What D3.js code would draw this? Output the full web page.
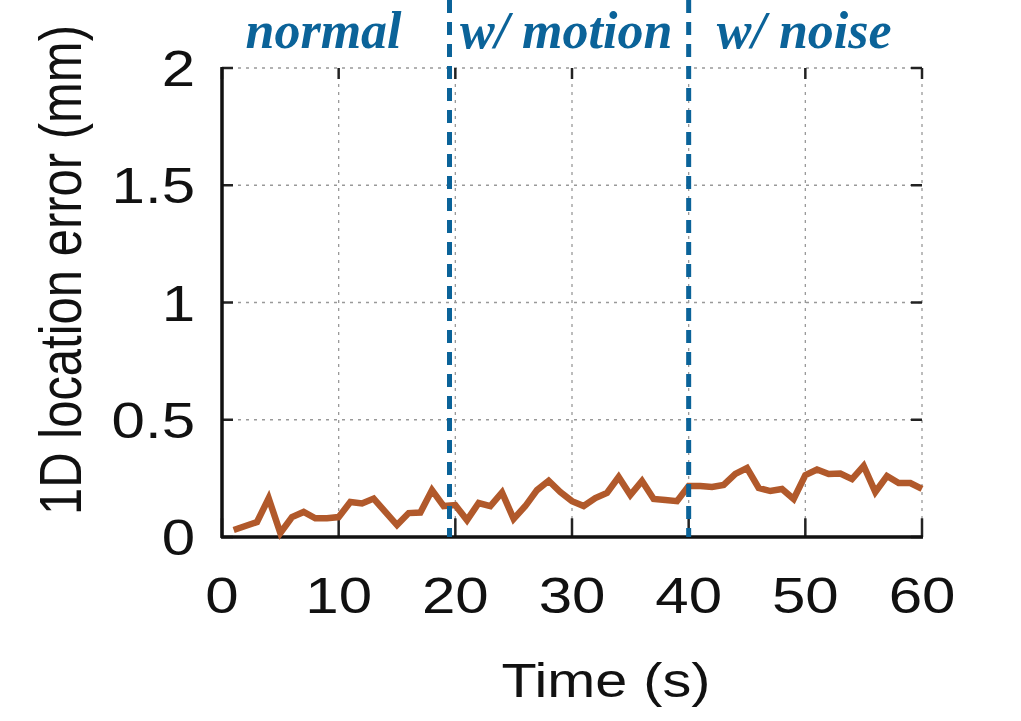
<!DOCTYPE html>
<html><head><meta charset="utf-8">
<script src="https://cdn.jsdelivr.net/npm/d3@7"></script>
<style>body{margin:0;background:#fff}svg{display:block}</style>
</head><body><svg id="c" width="1021" height="721"></svg>
<script>
const times = d3.range(1, 61);
const errors = [0.030,0.047,0.064,0.165,0.017,0.085,0.107,0.080,0.080,0.085,
0.149,0.143,0.164,0.107,0.051,0.102,0.104,0.200,0.132,0.136,
0.072,0.145,0.132,0.190,0.077,0.132,0.200,0.240,0.192,0.153,
0.132,0.166,0.188,0.256,0.179,0.239,0.162,0.158,0.153,0.217,
0.217,0.213,0.222,0.269,0.294,0.209,0.196,0.205,0.162,0.264,
0.288,0.269,0.271,0.247,0.303,0.192,0.260,0.230,0.230,0.205];
const xTicks = [0,10,20,30,40,50,60];
const yTicks = [0,0.5,1,1.5,2];
const yTickLabels = ["0","0.5","1","1.5","2"];
const phaseBounds = [19.5, 40];
const phaseLabels = ["normal","w/ motion","w/ noise"];
const phaseLabelX = [8.7, 29.5, 49.9];

const svg = d3.select("#c");
const L=222,R=922,T=68,B=537;
const x = d3.scaleLinear().domain([0,60]).range([L,R]);
const y = d3.scaleLinear().domain([0,2]).range([B,T]);
const blue = "#0b6399";
const hs = 1.2; // horizontal stretch of the figure

// grid
svg.append("g").selectAll("line").data(yTicks).join("line")
  .attr("x1",L).attr("x2",R).attr("y1",d=>y(d)).attr("y2",d=>y(d))
  .attr("stroke","#999").attr("stroke-width",1.3).attr("stroke-dasharray","3,5");
svg.append("g").selectAll("line").data(xTicks).join("line")
  .attr("y1",T).attr("y2",B).attr("x1",d=>x(d)).attr("x2",d=>x(d))
  .attr("stroke","#999").attr("stroke-width",1.3).attr("stroke-dasharray","3,5");

// mirrored ticks (inward)
const tk=11;
svg.append("g").selectAll("line").data(yTicks).join("line")
  .attr("x1",L).attr("x2",L+tk).attr("y1",d=>y(d)).attr("y2",d=>y(d)).attr("stroke","#222").attr("stroke-width",2.5);
svg.append("g").selectAll("line").data(yTicks).join("line")
  .attr("x1",R).attr("x2",R-tk).attr("y1",d=>y(d)).attr("y2",d=>y(d)).attr("stroke","#222").attr("stroke-width",2.5);
svg.append("g").selectAll("line").data(xTicks).join("line")
  .attr("x1",d=>x(d)).attr("x2",d=>x(d)).attr("y1",B).attr("y2",B-tk*1.7).attr("stroke","#222").attr("stroke-width",2.5);
svg.append("g").selectAll("line").data(xTicks).join("line")
  .attr("x1",d=>x(d)).attr("x2",d=>x(d)).attr("y1",T).attr("y2",T+tk).attr("stroke","#222").attr("stroke-width",2.5);

// axes lines
svg.append("line").attr("x1",L).attr("x2",L).attr("y1",T-1).attr("y2",B+1).attr("stroke","#111").attr("stroke-width",3.5);
svg.append("line").attr("x1",L-1).attr("x2",R+1).attr("y1",B).attr("y2",B).attr("stroke","#111").attr("stroke-width",3.5);

// data line
svg.append("path").datum(times.map((t,i)=>[t,errors[i]]))
  .attr("d", d3.line().x(d=>x(d[0])).y(d=>y(d[1])))
  .attr("fill","none").attr("stroke","#b1592b").attr("stroke-width",6.5).attr("stroke-linejoin","miter");

// phase boundaries
svg.append("g").selectAll("line").data(phaseBounds).join("line")
  .attr("x1",d=>x(d)).attr("x2",d=>x(d)).attr("y1",0).attr("y2",B)
  .attr("stroke",blue).attr("stroke-width",5).attr("stroke-dasharray","13,9");

// phase labels
svg.append("g").selectAll("text").data(phaseLabels).join("text")
  .attr("transform",(d,i)=>`translate(${x(phaseLabelX[i])},48)`)
  .attr("text-anchor","middle").attr("fill",blue)
  .attr("font-family","'Liberation Serif','Times New Roman',serif").attr("font-weight","bold").attr("font-style","italic")
  .attr("font-size",52).text(d=>d);

// tick labels
const fs=50;
svg.append("g").selectAll("text").data(yTicks).join("text")
  .attr("transform",d=>`translate(195,${y(d)+18}) scale(${hs},1)`)
  .attr("text-anchor","end").attr("font-family","Liberation Sans").attr("font-size",fs).attr("fill","#111")
  .text((d,i)=>yTickLabels[i]);
svg.append("g").selectAll("text").data(xTicks).join("text")
  .attr("transform",d=>`translate(${x(d)},613) scale(${hs},1)`)
  .attr("text-anchor","middle").attr("font-family","Liberation Sans").attr("font-size",fs).attr("fill","#111")
  .text(d=>d);

// axis titles
svg.append("text").attr("transform",`translate(606,697) scale(${hs},1)`)
  .attr("text-anchor","middle").attr("font-family","Liberation Sans").attr("font-size",48).attr("fill","#111")
  .text("Time (s)");
svg.append("text").attr("transform",`translate(81,270) scale(${hs},1) rotate(-90)`)
  .attr("text-anchor","middle").attr("font-family","Liberation Sans").attr("font-size",49).attr("fill","#111")
  .text("1D location error (mm)");
</script></body></html>
